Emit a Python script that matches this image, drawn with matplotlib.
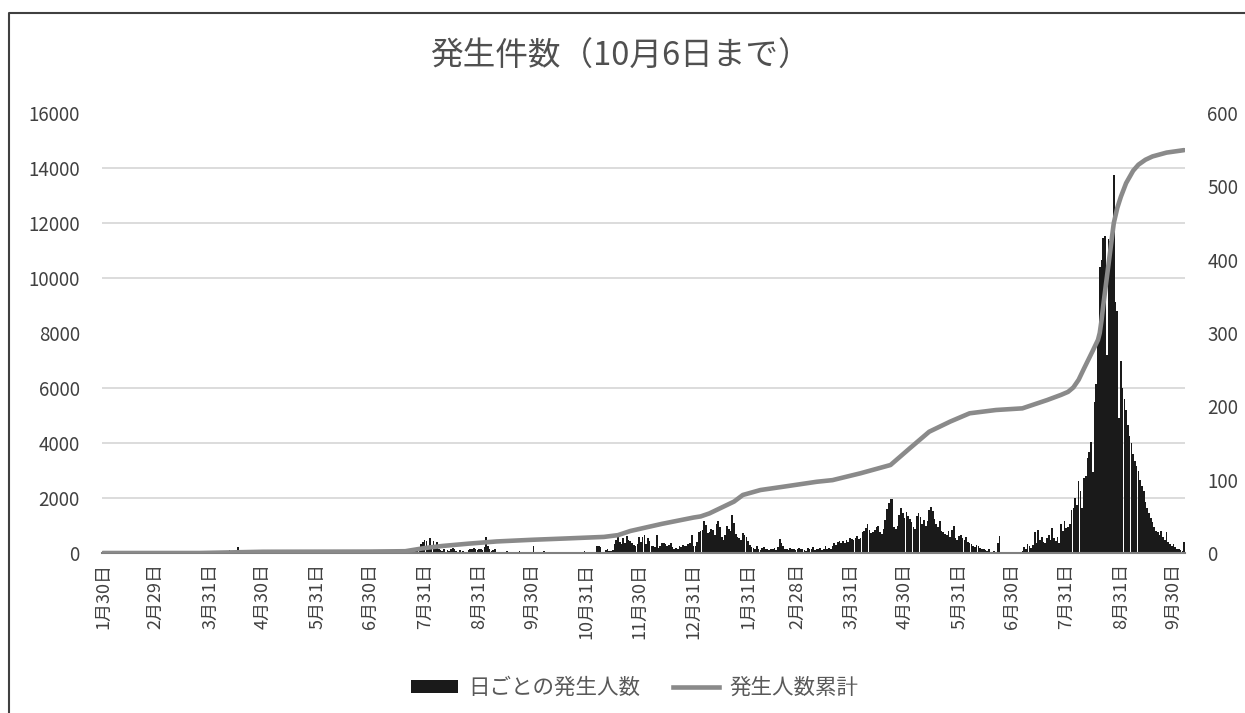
import numpy as np
import pandas as pd
import matplotlib
matplotlib.use('Agg')
import matplotlib.pyplot as plt
from matplotlib.lines import Line2D
from matplotlib.patches import Patch

# daily new cases, one list per month (2020-01-30 .. 2021-10-06)
jan20 = [0, 0]
feb20 = [0, 0, 0, 0, 0, 0, 0, 0, 0, 0, 0, 0, 0, 0, 0, 0, 0, 0, 0, 0, 0, 0, 0, 0, 0, 0, 0, 0, 0]
mar20 = [0, 0, 0, 0, 0, 0, 0, 0, 0, 0, 0, 0, 0, 0, 0, 0, 0, 0, 0, 1, 0, 0, 0, 0, 0, 1, 0, 0, 1, 2, 1]
apr20 = [0, 1, 2, 1, 3, 0, 2, 3, 1, 2, 4, 1, 2, 3, 2, 8, 2, 1, 0, 1, 2, 1, 0, 1, 0, 0, 1, 0, 0, 0]
may20 = [0, 0, 0, 0, 0, 0, 0, 0, 0, 0, 0, 0, 0, 1, 0, 0, 0, 0, 0, 0, 0, 0, 0, 0, 0, 0, 0, 0, 0, 0, 0]
jun20 = [0, 0, 0, 0, 0, 0, 0, 0, 0, 0, 0, 0, 0, 0, 0, 0, 0, 0, 0, 0, 0, 0, 0, 0, 0, 1, 0, 0, 0, 0]
jul20 = [0, 0, 0, 0, 0, 1, 0, 0, 0, 0, 0, 0, 0, 0, 0, 0, 0, 0, 0, 0, 1, 2, 1, 3, 2, 4, 3, 8, 12, 15, 18]
aug20 = [16, 8, 20, 10, 17, 9, 15, 6, 4, 3, 5, 2, 4, 3, 6, 7, 5, 3, 2, 4, 2, 3, 1, 2, 4, 6, 5, 7, 6, 4, 5]
sep20 = [6, 4, 8, 22, 9, 5, 3, 4, 6, 2, 1, 2, 0, 1, 0, 3, 0, 1, 0, 2, 0, 0, 3, 0, 1, 0, 2, 0, 0, 1]
oct20 = [10, 2, 0, 1, 0, 0, 3, 0, 1, 0, 0, 2, 0, 0, 1, 0, 0, 2, 0, 0, 1, 0, 0, 2, 0, 0, 0, 1, 0, 3, 0]
nov20 = [1, 0, 2, 1, 0, 9, 10, 8, 2, 1, 4, 5, 3, 3, 4, 12, 18, 22, 15, 12, 20, 14, 23, 18, 16, 13, 11, 9, 12, 22]
dec20 = [15, 22, 25, 12, 20, 16, 10, 9, 8, 24, 7, 10, 13, 13, 12, 9, 11, 14, 8, 6, 7, 5, 9, 8, 11, 10, 9, 12, 14, 24, 10]
jan21 = [10, 15, 28, 30, 32, 43, 38, 27, 29, 33, 31, 25, 39, 43, 36, 22, 18, 24, 37, 33, 30, 52, 41, 26, 22, 20, 18, 27, 25, 22, 16]
feb21 = [11, 8, 7, 6, 9, 5, 4, 7, 8, 6, 5, 4, 6, 5, 7, 4, 8, 19, 13, 10, 6, 5, 4, 7, 5, 6, 4, 5]
mar21 = [7, 5, 6, 4, 3, 7, 6, 5, 8, 4, 6, 5, 7, 4, 6, 9, 5, 7, 6, 10, 13, 11, 15, 16, 13, 17, 14, 18, 15, 20, 19]
apr21 = [18, 20, 23, 19, 21, 28, 30, 34, 40, 32, 27, 29, 31, 35, 37, 28, 26, 33, 45, 60, 68, 73, 74, 35, 33, 37, 52, 61, 55, 48]
may21 = [56, 50, 47, 42, 36, 33, 50, 54, 49, 40, 45, 37, 44, 58, 63, 57, 47, 40, 35, 44, 30, 28, 26, 24, 30, 22, 32, 37, 20, 18, 23]
jun21 = [24, 20, 18, 22, 15, 13, 12, 10, 8, 11, 9, 7, 6, 5, 4, 3, 5, 2, 1, 3, 2, 14, 23, 2, 1, 0, 1, 2, 0, 1]
jul21 = [1, 0, 2, 0, 1, 3, 8, 6, 12, 9, 7, 11, 29, 14, 31, 18, 22, 15, 13, 21, 25, 18, 34, 20, 16, 22, 14, 39, 30, 43, 34]
aug21 = [36, 39, 58, 61, 75, 66, 98, 84, 61, 102, 105, 130, 138, 152, 111, 206, 230, 290, 390, 400,
         430, 432, 270, 428, 425, 420, 516, 342, 330, 184, 262]
sep21 = [225, 210, 195, 175, 160, 150, 135, 125, 118, 112, 100, 92, 85, 70, 62, 55, 48, 42, 35, 30,
         28, 25, 30, 22, 18, 28, 15, 12, 10, 12]
oct21 = [8, 6, 5, 4, 3, 15]

# cumulative total
cum_dates = ["2020-01-30", "2020-03-25", "2020-04-10", "2020-04-30", "2020-06-30", "2020-07-20",
             "2020-07-31", "2020-08-10", "2020-08-25", "2020-09-10", "2020-09-30", "2020-10-20",
             "2020-11-10", "2020-11-18", "2020-11-25", "2020-12-13", "2020-12-31", "2021-01-04",
             "2021-01-09", "2021-01-23", "2021-01-28", "2021-02-07", "2021-02-20", "2021-03-11",
             "2021-03-20", "2021-04-05", "2021-04-22", "2021-05-03", "2021-05-14", "2021-05-26",
             "2021-06-06", "2021-06-21", "2021-07-06", "2021-07-20", "2021-07-28", "2021-08-01",
             "2021-08-04", "2021-08-07", "2021-08-10", "2021-08-15", "2021-08-18", "2021-08-19",
             "2021-08-20", "2021-08-21", "2021-08-23", "2021-08-25", "2021-08-27", "2021-08-29",
             "2021-08-31", "2021-09-03", "2021-09-07", "2021-09-10", "2021-09-14", "2021-09-18",
             "2021-09-26", "2021-10-06"]
cum_values = [0, 0, 20, 45, 52, 65, 180, 255, 340, 420, 480, 530, 585, 650, 800, 1060, 1290, 1330,
              1440, 1870, 2110, 2290, 2410, 2590, 2650, 2900, 3200, 3810, 4410, 4780, 5080, 5200,
              5260, 5560, 5750, 5860, 6020, 6300, 6700, 7350, 7750, 8000, 8450, 9000, 10000, 11000,
              12000, 12550, 12950, 13450, 13900, 14120, 14300, 14420, 14560, 14650]

tick_dates = ["2020-01-30", "2020-02-29", "2020-03-31", "2020-04-30", "2020-05-31", "2020-06-30",
              "2020-07-31", "2020-08-31", "2020-09-30", "2020-10-31", "2020-11-30", "2020-12-31",
              "2021-01-31", "2021-02-28", "2021-03-31", "2021-04-30", "2021-05-31", "2021-06-30",
              "2021-07-31", "2021-08-31", "2021-09-30"]

plt.rcParams['font.family'] = ['Noto Sans CJK JP', 'DejaVu Sans']

start = pd.Timestamp("2020-01-30")
daily = np.array(jan20 + feb20 + mar20 + apr20 + may20 + jun20 + jul20 + aug20 + sep20 + oct20
                 + nov20 + dec20 + jan21 + feb21 + mar21 + apr21 + may21 + jun21 + jul21 + aug21
                 + sep21 + oct21)
days = pd.date_range(start, "2021-10-06")
pos = np.arange(len(days))
cum_pos = (pd.to_datetime(cum_dates) - start).days
tick_ts = pd.to_datetime(tick_dates)
tick_pos = (tick_ts - start).days
tick_labels = ['{}月{}日'.format(t.month, t.day) for t in tick_ts]

BAR = '#1a1a1a'
LINE = '#8a8a8a'
TXT = '#404040'

fig = plt.figure(figsize=(12.45, 7.13), dpi=100)
ax_bar = fig.add_axes([102 / 1245, 160 / 713, 1083 / 1245, 440 / 713])
ax_cum = ax_bar.twinx()
ax_bar.yaxis.tick_right()
ax_cum.yaxis.tick_left()

# gridlines follow the left scale (2000 steps == 75 on the right scale)
ax_bar.set_yticks(np.arange(75, 601, 75), minor=True)
ax_bar.grid(which='minor', axis='y', color='#d9d9d9', lw=1.3)
ax_bar.set_axisbelow(True)

ax_bar.bar(pos, daily, width=0.95, color=BAR, lw=0)
ax_bar.set_xlim(-0.5, len(days) - 0.5)
ax_bar.set_ylim(0, 600)
ax_bar.set_yticks(range(0, 601, 100))

ax_cum.plot(cum_pos, cum_values, color=LINE, lw=3.3, solid_capstyle='round', solid_joinstyle='round')
ax_cum.set_ylim(0, 16000)
ax_cum.set_yticks(range(0, 16001, 2000))

for a in (ax_bar, ax_cum):
    for s in a.spines.values():
        s.set_visible(False)
ax_bar.spines['bottom'].set_visible(True)
ax_bar.spines['bottom'].set_color('#808080')
ax_bar.spines['bottom'].set_linewidth(1.5)

ax_bar.set_xticks(tick_pos)
ax_bar.set_xticklabels(tick_labels, rotation=90)
ax_bar.tick_params(axis='x', length=0, pad=7, labelsize=13, labelcolor=TXT)
ax_bar.tick_params(axis='y', which='both', length=0, pad=16, labelsize=13.5, labelcolor=TXT)
ax_cum.tick_params(axis='y', length=0, pad=16, labelsize=13.5, labelcolor=TXT)

fig.text(620 / 1245, 1 - 57 / 713, '発生件数（10月6日まで）', ha='center', va='center',
         fontsize=23.5, color='#505050')

handles = [Patch(facecolor=BAR, edgecolor='none'), Line2D([], [], color=LINE, lw=3.3)]
fig.legend(handles, ['日ごとの発生人数', '発生人数累計'], loc='center', bbox_to_anchor=(0.51, 0.035),
           ncol=2, frameon=False, fontsize=15.5, handlelength=2.15, handleheight=0.5,
           handletextpad=0.5, columnspacing=1.5, labelcolor='#595959')

# outer frame (left and top edge only, the rest is cropped)
fig.add_artist(Line2D([9 / 1245, 9 / 1245, 1.0], [0, 1 - 13 / 713, 1 - 13 / 713],
                      transform=fig.transFigure, color='#404040', lw=1.5))

fig.savefig('out.png', dpi=100)
